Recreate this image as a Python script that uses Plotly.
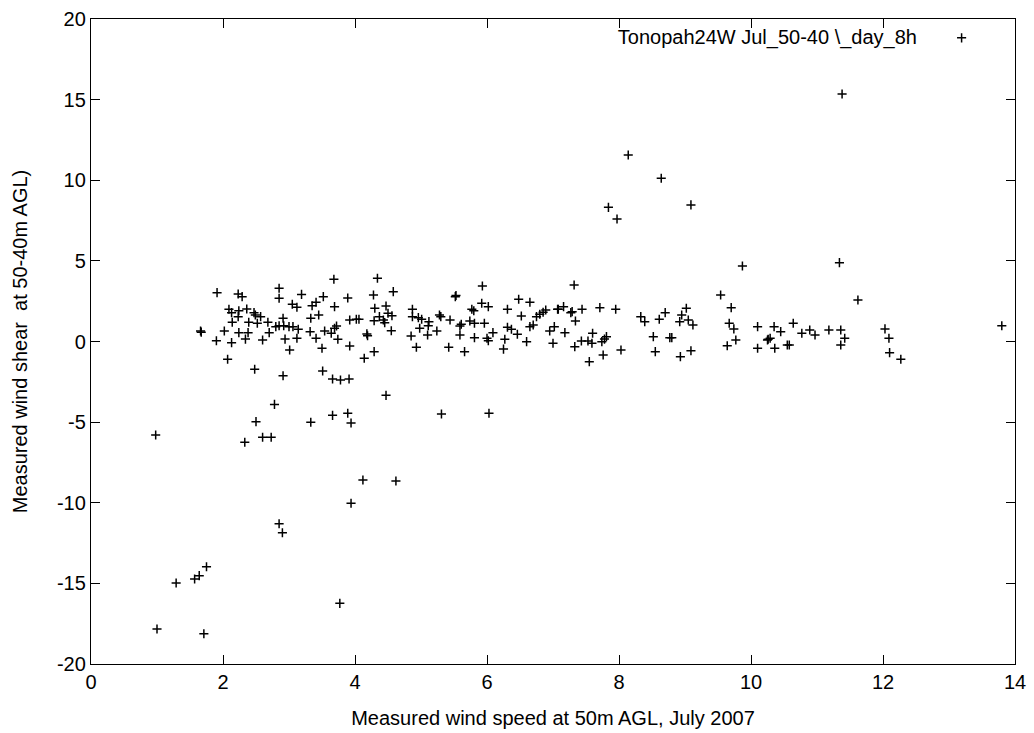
import plotly.graph_objects as go

# Measured wind speed at 50m AGL (m/s)
wind_speed = [
    11.38, 8.14, 8.64, 7.84, 7.97, 9.09, 9.87, 11.34,
    0.98, 2.50, 2.33, 2.60, 2.73, 3.33, 3.66, 3.89, 3.94, 4.12, 4.62, 3.94, 2.85, 2.90,
    1.75, 1.64, 1.57, 1.29, 3.77, 1.00, 1.71,
    5.31, 6.03, 4.47, 3.66, 3.78, 3.91, 4.14, 4.29,
    1.91, 2.23, 2.29, 2.85, 2.85, 3.19, 3.52, 3.41, 3.05, 3.12, 3.35, 2.09, 2.13, 2.24,
    2.36, 2.47, 2.49, 2.57, 2.23, 2.14, 2.39, 2.52, 2.91, 3.33, 3.45, 2.68, 2.80, 2.85,
    2.92, 3.00, 3.06, 3.14, 3.32, 3.54, 1.66, 1.67, 2.02, 2.24, 2.38, 2.70, 1.90, 2.13,
    2.34, 2.60, 2.94, 3.12, 3.41, 3.01, 3.50, 2.07, 2.48, 2.91, 3.51, 2.78, 3.68,
    4.34, 3.89, 4.28, 4.58, 3.69, 4.30, 4.47, 4.50, 4.56, 4.37, 3.92, 4.02, 4.06, 4.29,
    4.43, 4.45, 3.72, 3.69, 3.64, 3.74, 4.18, 4.19, 4.55, 3.92, 4.87, 4.87, 4.96, 5.01,
    5.12, 5.11, 4.98, 4.85, 5.10, 5.24, 4.93, 5.28, 5.30, 5.44, 5.52, 5.53, 5.59, 5.61,
    5.59, 5.42, 5.66, 5.77, 5.80, 5.93, 5.92, 6.02, 5.74, 5.81, 5.96, 5.81, 6.00, 6.02,
    6.09, 6.31, 6.48, 6.65, 6.52, 6.75, 6.80, 6.85, 6.89, 7.07, 6.31, 6.37, 6.65, 6.70,
    6.27, 6.25, 6.46, 6.60, 6.95, 7.02, 7.00,
    7.32, 7.08, 7.16, 7.27, 7.29, 7.44, 7.34, 7.18, 7.71, 7.95, 7.60, 7.43, 7.53, 7.59,
    7.33, 7.74, 7.78, 7.81, 7.76, 7.55, 8.03, 8.33, 8.39, 8.61, 8.70, 8.95, 9.02, 8.92,
    9.05, 9.12, 8.52, 8.77, 8.80, 8.55, 8.93, 9.09, 9.54, 9.70, 9.67, 9.74, 9.77, 9.64,
    10.10, 10.10, 10.35, 10.45, 10.26, 10.29, 10.25, 10.36, 10.55,
    11.62, 10.64, 10.77, 10.89, 10.97, 11.18, 11.36, 11.42, 11.36, 10.58, 12.03, 12.09,
    12.10, 12.27, 13.80,
]

# Measured wind shear at 50-40m AGL
wind_shear = [
    15.35, 11.57, 10.12, 8.32, 7.60, 8.47, 4.68, 4.89,
    -5.80, -4.97, -6.25, -5.94, -5.94, -5.01, -4.58, -4.45, -5.05, -8.59, -8.65, -10.03, -11.30, -11.86,
    -13.97, -14.52, -14.73, -14.98, -16.24, -17.83, -18.12,
    -4.50, -4.45, -3.34, -2.33, -2.39, -2.33, -1.04, -0.63,
    3.03, 2.95, 2.78, 3.30, 2.68, 2.92, 2.78, 2.43, 2.31, 2.12, 2.22, 2.00, 1.79, 1.91,
    2.02, 1.79, 1.64, 1.54, 1.54, 1.19, 1.19, 1.13, 1.44, 1.44, 1.64, 1.19, 0.92, 0.98,
    0.98, 0.92, 0.92, 0.76, 0.61, 0.65, 0.65, 0.58, 0.65, 0.55, 0.55, 0.55, 0.05, -0.07,
    0.15, 0.09, 0.15, 0.20, 0.20, -0.53, -0.42, -1.10, -1.72, -2.12, -1.83, -3.90, 3.86,
    3.92, 2.70, 2.88, 3.09, 2.16, 2.06, 2.20, 1.75, 1.60, 1.54, 1.33, 1.38, 1.38, 1.29,
    1.33, 1.17, 0.96, 0.82, 0.51, 0.14, 0.47, 0.36, 0.67, -0.28, 2.00, 1.54, 1.48, 1.38,
    1.23, 0.98, 0.82, 0.34, 0.40, 0.65, -0.36, 1.64, 1.54, 1.33, 2.78, 2.85, 0.96, 1.07,
    0.40, -0.36, -0.63, 2.00, 1.91, 3.44, 2.37, 2.16, 1.27, 1.13, 1.13, 0.24, 0.20, 0.05,
    0.55, 2.00, 2.62, 2.43, 1.58, 1.54, 1.69, 1.81, 1.95, 2.00, 0.88, 0.76, 0.92, 1.02,
    0.14, -0.47, 0.45, -0.01, 0.65, 0.92, -0.11,
    3.50, 2.00, 2.16, 1.79, 1.85, 2.00, 1.27, 0.55, 2.10, 2.00, 0.51, 0.03, 0.03, -0.11,
    -0.32, -0.01, 0.15, 0.30, -0.84, -1.25, -0.53, 1.54, 1.23, 1.38, 1.79, 1.64, 2.06, 1.23,
    1.33, 1.02, 0.30, 0.24, 0.24, -0.63, -0.94, -0.57, 2.88, 2.10, 1.13, 0.78, 0.09, -0.26,
    0.92, -0.42, 0.92, 0.61, 0.14, 0.20, 0.09, -0.42, -0.22,
    2.57, 1.13, 0.51, 0.71, 0.40, 0.71, 0.71, 0.20, -0.22, -0.22, 0.78, 0.20,
    -0.69, -1.10, 0.98,
]

x_ticks = [0, 2, 4, 6, 8, 10, 12, 14]
y_ticks = [-20, -15, -10, -5, 0, 5, 10, 15, 20]

series_label = "Tonopah24W Jul_50-40 \\_day_8h"
FONT = "Liberation Sans, Arial, Helvetica, sans-serif"

fig = go.Figure()
fig.add_trace(go.Scatter(
    x=wind_speed, y=wind_shear, mode="markers", name="",
    marker=dict(symbol="cross-thin-open", size=6.5, color="black",
                line=dict(width=1.5, color="black")),
    showlegend=True,
))

axis_common = dict(
    showline=True, linecolor="black", linewidth=1.3, mirror="allticks",
    ticks="inside", ticklen=9, tickwidth=1.3, tickcolor="black",
    showgrid=False, zeroline=False, automargin=False,
    tickfont=dict(family=FONT, size=20, color="black"),
)

fig.update_layout(
    width=1034, height=733,
    margin=dict(l=91, r=19, t=19, b=69, autoexpand=False),
    plot_bgcolor="white", paper_bgcolor="white",
    font=dict(family=FONT, size=20, color="black"),
    xaxis=dict(range=[0, 14], tickvals=x_ticks, ticktext=[str(v) for v in x_ticks],
               title=dict(text="Measured wind speed at 50m AGL, July 2007",
                          font=dict(family=FONT, size=20), standoff=18),
               **axis_common),
    yaxis=dict(range=[-20, 20], tickvals=y_ticks, ticktext=[str(v) for v in y_ticks],
               title=dict(text="Measured wind shear  at 50-40m AGL)",
                          font=dict(family=FONT, size=20), standoff=23),
               **axis_common),
    legend=dict(
        x=0.9695, y=1.001, xanchor="right", yanchor="top",
        bgcolor="rgba(0,0,0,0)", borderwidth=0,
        title=dict(text=series_label + "\u00a0\u00a0\u00a0", side="left",
                   font=dict(family=FONT, size=20)),
        font=dict(family=FONT, size=20),
        itemwidth=30,
    ),
)

fig.write_html("out.html")
